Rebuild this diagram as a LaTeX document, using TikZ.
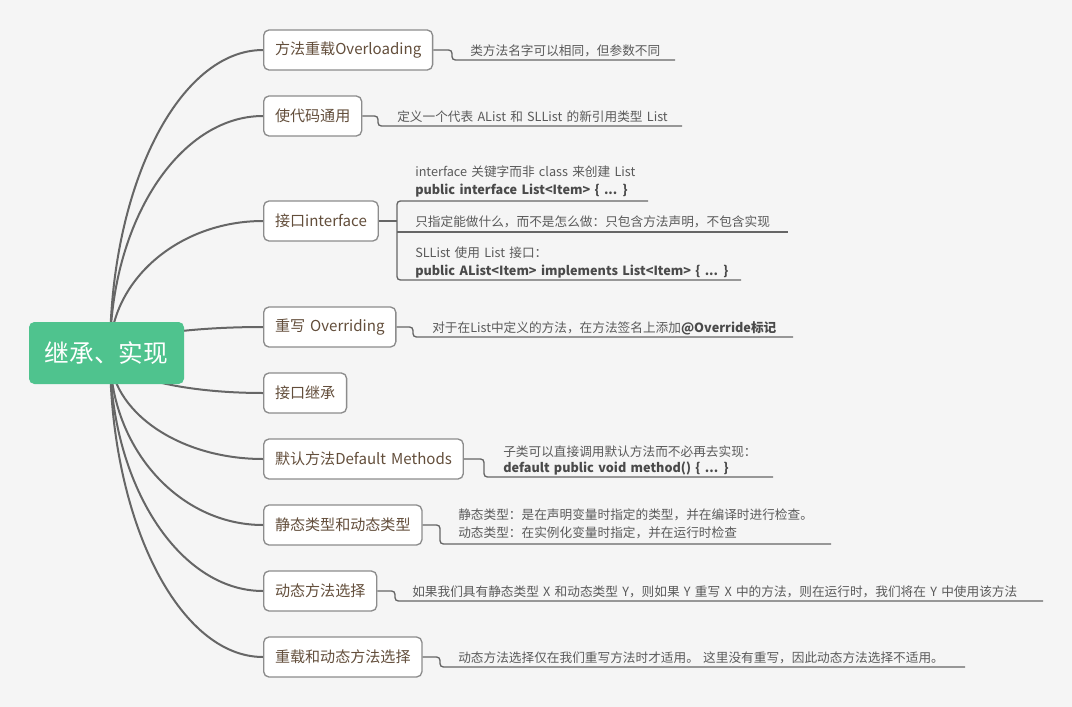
\documentclass[tikz,border=0pt]{standalone}
\usepackage{fontspec}
\setmainfont{Noto Sans CJK SC}[WordSpace=1.5]
\usetikzlibrary{calc}
\definecolor{bgc}{HTML}{F5F5F5}
\definecolor{rootg}{HTML}{4FC38E}
\definecolor{linec}{HTML}{666666}
\definecolor{boxb}{HTML}{8C8C8C}
\definecolor{txtb}{HTML}{634E3B}
\definecolor{notec}{HTML}{5A5A5A}
\definecolor{boldc}{HTML}{4A4A4A}
\pgfdeclarelayer{back}
\pgfsetlayers{back,main}
\begin{document}
\begin{tikzpicture}[x=0.75pt,y=-0.75pt,
  rootbox/.style={fill=rootg, rounded corners=4pt, minimum width=116.25pt, minimum height=46.5pt,
    text=white, font=\fontsize{18.5}{22}\selectfont, inner sep=0pt},
  topic/.style={draw=boxb, line width=1pt, fill=white, rounded corners=4pt, anchor=west,
    minimum height=30pt, inner xsep=8.5pt, inner ysep=0pt, text=txtb, font=\fontsize{11.3}{13}\selectfont},
  notes/.style={anchor=base west, inner sep=0pt, text=notec, font=\fontsize{9.5}{12}\selectfont},
  code/.style={notes, text=boldc, font=\fontsize{9.5}{12}\selectfont\bfseries},
  mainline/.style={draw=linec, line width=1.5pt},
  subline/.style={draw=linec, line width=1pt, rounded corners=2.5pt}
]
\begin{pgfonlayer}{back}
  \fill[bgc] (0,0) rectangle (1072,707);
\end{pgfonlayer}
\useasboundingbox (0,0) rectangle (1072,707);

% root
\node[rootbox] (r) at (106.5,353) {继承、实现};
\coordinate (hub) at (110,353);

% topics
\node[topic] (c1) at (263,50)  {方法重载Overloading};
\node[topic] (c2) at (263,116) {使代码通用};
\node[topic] (c3) at (263,221) {接口interface};
\node[topic] (c4) at (263,327) {重写 Overriding};
\node[topic] (c5) at (263,393) {接口继承};
\node[topic] (c6) at (263,459) {默认方法Default Methods};
\node[topic] (c7) at (263,525) {静态类型和动态类型};
\node[topic] (c8) at (263,591) {动态方法选择};
\node[topic] (c9) at (263,657) {重载和动态方法选择};

% main curves
\begin{pgfonlayer}{back}
\foreach \n/\y in {c1/50,c2/116,c3/221,c4/327,c5/393,c6/459,c7/525,c8/591,c9/657}{
  \draw[mainline] (hub) .. controls +(0,{-0.5523*(353-\y)}) and +(-84,0) .. (\n.west);
}
\end{pgfonlayer}

% notes
\node[notes] (n1) at (470,55) {类方法名字可以相同，但参数不同};
\node[notes] (n2) at (397,121) {定义一个代表 AList 和 SLList 的新引用类型 List};
\node[notes] (n3a) at (415,176.5) {interface 关键字而非 class 来创建 List};
\node[code]  (n3b) at (415,194.5) {public interface List<Item> \{ ... \}};
\node[notes] (n3c) at (415,226) {只指定能做什么，而不是怎么做：只包含方法声明，不包含实现};
\node[notes] (n3d) at (415,257) {SLList 使用 List 接口：};
\node[code]  (n3e) at (415,275) {public AList<Item>  implements List<Item> \{ ... \}};
\node[notes] (n4) at (432,332) {对于在List中定义的方法，在方法签名上添加{\color{boldc}\bfseries @Override标记}};
\node[notes] (n6a) at (503,456) {子类可以直接调用默认方法而不必再去实现：};
\node[code]  (n6b) at (503,472) {default public void method() \{ ... \}};
\node[notes] (n7a) at (458,519) {静态类型：是在声明变量时指定的类型，并在编译时进行检查。};
\node[notes] (n7b) at (458,537) {动态类型：在实例化变量时指定，并在运行时检查};
\node[notes] (n8) at (412,596) {如果我们具有静态类型 X 和动态类型 Y，则如果 Y 重写 X 中的方法，则在运行时，我们将在 Y 中使用该方法};
\node[notes] (n9) at (458,662) {动态方法选择仅在我们重写方法时才适用。 这里没有重写，因此动态方法选择不适用。};

% underline end points
\coordinate (u1) at (675,60);
\coordinate (u2) at (682,126);
\coordinate (u3a) at (648,201);
\coordinate (u3b) at (788,232);
\coordinate (u3c) at (741,280);
\coordinate (u4) at (793,337);
\coordinate (u6) at (773,477);
\coordinate (u7) at (831,544);
\coordinate (u8) at (1043,601);
\coordinate (u9) at (965,667);

% sub connectors
\draw[subline] (c1.east) -- (452,50) |- (u1);
\draw[subline] (c2.east) -- (378,116) |- (u2);
\draw[subline] (c3.east) -- (397,221);
\draw[subline] (u3a) -- (397,201) -- (397,280) -- (u3c);
\draw[subline] (397,232) -- (u3b);
\draw[subline] (c4.east) -- (413,327) |- (u4);
\draw[subline] (c6.east) -- (484,459) |- (u6);
\draw[subline] (c7.east) -- (440,525) |- (u7);
\draw[subline] (c8.east) -- (395,591) |- (u8);
\draw[subline] (c9.east) -- (440,657) |- (u9);
\end{tikzpicture}
\end{document}
